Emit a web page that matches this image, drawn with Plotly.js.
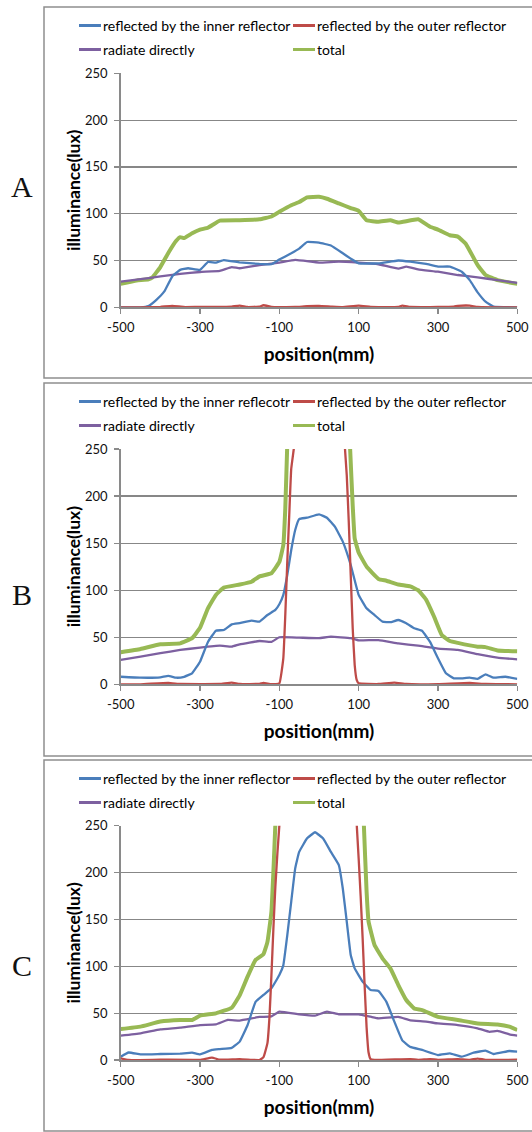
<!DOCTYPE html>
<html>
<head>
<meta charset="utf-8">
<script src="https://cdn.plot.ly/plotly-3.0.1.min.js"></script>
<style>html,body{margin:0;padding:0;background:#fff;}#chart{width:532px;height:1132px;}</style>
</head>
<body>
<div id="chart"></div>
<script>
// ---------- labels ----------
const panelLetters = ["A", "B", "C"];
const seriesNamesA = ["reflected by the inner reflector", "reflected by the outer reflector", "radiate directly", "total"];
const seriesNamesB = ["reflected by the inner reflecotr", "reflected by the outer reflector", "radiate directly", "total"];
const seriesNamesC = ["reflected by the inner reflector", "reflected by the outer reflector", "radiate directly", "total"];
const xTickVals = [-500, -300, -100, 100, 300, 500];
const xTickText = ["-500", "-300", "-100", "100", "300", "500"];
const yTickVals = [0, 50, 100, 150, 200, 250];
const xTitle = "position(mm)";
const yTitle = "illuminance(lux)";

// ---------- panel A ----------
const aInnerX = [-500,-450,-430,-410,-390,-370,-350,-330,-300,-280,-260,-240,-200,-150,-120,-100,-70,-50,-30,0,30,60,80,100,150,200,230,270,300,330,360,380,400,420,440,500];
const aInnerY = [0,0,1.4,8,17,33,40,41.7,40,48.4,47.7,50.5,48,46.3,46,51,57.7,62.7,69.8,69,66,57.7,52,47,47,50,48.8,46.3,43.5,43.5,38,29,16,6,0.7,0];
const aOuterX = [-500,-450,-400,-370,-340,-300,-250,-220,-200,-180,-150,-140,-120,-100,-60,-30,0,30,60,100,130,150,200,210,230,260,300,340,350,380,400,450,500];
const aOuterY = [0,0,0.5,1.5,0.3,0.5,0.3,0.8,1.8,0.3,0.8,2.2,0.5,0.2,0.3,1.2,1.5,0.8,0.2,1.8,0.3,0.2,0.5,1.8,0.3,0.2,0.3,0.8,1.5,1.8,0.3,0,0];
const aDirectX = [-500,-450,-400,-350,-300,-250,-220,-200,-150,-100,-60,0,50,100,150,200,220,250,300,350,400,450,500];
const aDirectY = [27.4,30,33,35.6,37.7,39,43,41.7,45,47.7,50.6,47.7,48.8,47.7,46,41.3,43.4,40.6,38,34.5,32,29,26];
const aTotalX = [-500,-460,-430,-420,-400,-380,-360,-350,-340,-320,-300,-280,-250,-200,-150,-120,-100,-70,-50,-30,0,20,50,80,100,120,150,180,200,250,280,300,330,350,370,400,420,450,500];
const aTotalY = [25,28.5,30,32,43,58,71,75,74,79,83,85,92.6,93,94,97,102,109,112.5,117.5,118,116,111,106,103,93,91.5,93,90.5,94,86,83,77,75.5,68,45,34.5,29,25];

// ---------- panel B ----------
const bInnerX = [-500,-450,-400,-380,-360,-340,-320,-300,-280,-260,-240,-220,-200,-170,-150,-130,-110,-100,-90,-80,-70,-60,-50,-30,0,20,40,60,80,100,120,140,160,180,200,220,240,260,280,300,320,340,360,380,400,420,440,470,500];
const bInnerY = [8,7,7.4,9,7,8,11.7,24,45,57,57.7,63.7,65,67.6,66.6,73.6,79,85,95,116,142.7,164,175.6,177,180.6,177,167.5,151.6,126.8,95,80.7,73.6,66.6,66,68.3,64.8,59.5,56.7,45,27.6,11.7,6.4,6.4,7,5.7,10.6,7,8,5.7];
const bOuterX = [-500,-450,-380,-350,-300,-250,-220,-200,-150,-140,-120,-100,-90,-85,-80,-75,-70,-60,-40,0,40,60,70,75,80,85,90,95,100,150,190,220,300,380,420,500];
const bOuterY = [0,0,1.5,0.3,0.2,0.3,1.8,0.3,0.5,1.5,0.2,1,27.6,73.6,130,180,229,262,400,500,400,284,222,173,116,59.5,20.5,4.6,1,0.3,1.8,0.3,0.2,1.5,0.3,0];
const bDirectX = [-500,-450,-400,-350,-300,-250,-220,-200,-150,-120,-100,-50,0,30,80,100,150,200,250,300,350,400,450,500];
const bDirectY = [26,29.4,33,36.5,39,41,40,42.5,46,45,50,49.6,49,50.6,49,46.7,47,43.5,41,38,36.5,32,28.3,26.5];
const bTotalX = [-500,-450,-400,-350,-320,-300,-280,-260,-240,-200,-170,-150,-120,-100,-90,-85,-80,-70,-40,0,40,70,78,85,90,100,120,150,170,200,230,250,270,290,310,330,350,400,420,450,500];
const bTotalY = [34,37.5,42.5,43.5,49,60,80.7,95,102.7,106,109,114.7,118,130,148,187,255,400,600,700,600,400,255,190,155,140,125,112,110,106,104,100,90,72,52,46,44,40,39.5,36,35];

// ---------- panel C ----------
const cInnerX = [-500,-480,-450,-400,-350,-320,-300,-270,-250,-220,-200,-180,-160,-140,-120,-100,-90,-80,-70,-60,-50,-30,-10,10,30,50,60,70,80,90,110,130,150,170,190,210,230,260,300,330,360,390,420,440,480,500];
const cInnerY = [3.5,8,6,6.4,6.8,7.8,6,10.7,11.7,13,19.6,37.3,62,69.4,76.5,90.7,101,133,169,204.5,222,236.5,243,236.5,222,208,183,147.6,112,97.8,83.6,74.7,73.6,62,41,21,14,10.7,5.3,7,3.5,7.8,10,6.4,9.6,8.9];
const cOuterX = [-500,-480,-400,-300,-270,-250,-200,-170,-150,-140,-130,-125,-120,-115,-110,-105,-100,-90,-40,0,40,90,95,100,105,110,115,120,125,130,140,230,250,280,300,350,380,400,420,500];
const cOuterY = [1.8,0,0.3,0.2,2.5,0.3,1,0.2,0,3,18,45,90,140,185,220,250,320,500,550,500,300,252,215,175,130,80,35,8,1,0,1,0.2,1,0.2,1,0.2,1.5,0.2,0.3];
const cDirectX = [-500,-450,-400,-350,-300,-260,-230,-200,-150,-120,-100,-50,-10,20,50,100,130,150,200,230,270,300,350,400,430,450,480,500];
const cDirectY = [26,28.4,32.7,34.5,37.3,38,42.7,42,45.9,46.6,51.6,48.7,47.3,51.6,48.7,48.7,46.2,44.5,45.9,42.3,41,39,37.3,33.8,30,31,27.4,26];
const cTotalX = [-500,-450,-400,-350,-320,-300,-260,-220,-200,-180,-160,-140,-130,-120,-115,-110,-100,0,100,113,120,125,140,160,180,200,220,240,260,300,350,400,450,480,500];
const cTotalY = [33,35.6,41,42.7,42.7,47.3,49.8,55.8,69,89,106.7,113,126,158,201,252,400,600,400,252,179.6,147.6,122.7,108.5,97.8,80,64,55,53.3,46,42.7,39,38,35.6,32];

// ---------- styling ----------
const W = 532, H = 1132;
const colors = {inner: "#4A7EBB", outer: "#BE4B48", direct: "#7D60A0", total: "#98B954"};
const font = "Lato, 'Open Sans', sans-serif";
const px = v => v / W;
const py = v => 1 - v / H;

// panel geometry in pixels
const panels = [
  {boxTop: 7, boxBottom: 378, plotTop: 73.3, plotBottom: 307.3, letterY: 186, names: seriesNamesA,
   data: [[aInnerX, aInnerY], [aOuterX, aOuterY], [aDirectX, aDirectY], [aTotalX, aTotalY]]},
  {boxTop: 383, boxBottom: 756, plotTop: 449, plotBottom: 684.3, letterY: 594, names: seriesNamesB,
   data: [[bInnerX, bInnerY], [bOuterX, bOuterY], [bDirectX, bDirectY], [bTotalX, bTotalY]]},
  {boxTop: 760, boxBottom: 1131, plotTop: 825.7, plotBottom: 1060, letterY: 965, names: seriesNamesC,
   data: [[cInnerX, cInnerY], [cOuterX, cOuterY], [cDirectX, cDirectY], [cTotalX, cTotalY]]}
];
const plotLeft = 120.7, plotRight = 517.3;
const seriesKeys = ["inner", "outer", "direct", "total"];
const widths = {inner: 2.3, outer: 2.3, direct: 2.3, total: 4};

const traces = [];
const shapes = [];
const annotations = [];
const layout = {
  width: W, height: H,
  margin: {l: 0, r: 0, t: 0, b: 0},
  paper_bgcolor: "#fff", plot_bgcolor: "#fff",
  showlegend: false,
  font: {family: font, color: "#111"}
};

panels.forEach((p, i) => {
  const n = i === 0 ? "" : String(i + 1);
  const xa = "x" + n, ya = "y" + n;
  const order = [3, 2, 0, 1];
  order.forEach(k => {
    const key = seriesKeys[k];
    traces.push({
      type: "scatter", mode: "lines",
      x: p.data[k][0], y: p.data[k][1],
      name: p.names[k],
      xaxis: xa, yaxis: ya,
      line: {color: colors[key], width: widths[key], shape: "spline", smoothing: 0.3},
      hoverinfo: "x+y+name"
    });
  });
  layout["xaxis" + n] = {
    domain: [px(plotLeft), px(plotRight)],
    anchor: ya,
    range: [-500, 500],
    tickmode: "array", tickvals: xTickVals, ticktext: xTickText,
    ticks: "outside", ticklen: 5, tickcolor: "#8a8a8a", tickwidth: 1.2,
    showline: true, linecolor: "#8a8a8a", linewidth: 1.5,
    showgrid: false, zeroline: false,
    tickfont: {family: font, size: 13, color: "#111"},
    ticklabelstandoff: 3,
    title: {text: "<b>" + xTitle + "</b>", font: {family: font, size: 19, color: "#000"}, standoff: 13},
    fixedrange: true
  };
  layout["yaxis" + n] = {
    domain: [py(p.plotBottom), py(p.plotTop)],
    anchor: xa,
    range: [0, 250],
    tickmode: "array", tickvals: yTickVals,
    ticks: "outside", ticklen: 5, tickcolor: "#8a8a8a", tickwidth: 1.2,
    showline: true, linecolor: "#8a8a8a", linewidth: 1.5,
    showgrid: true, gridcolor: "#878787", gridwidth: 1.2,
    zeroline: false,
    tickfont: {family: font, size: 13, color: "#111"},
    ticklabelstandoff: 4,
    title: {text: "<b>" + yTitle + "</b>", font: {family: font, size: 17.5, color: "#000"}, standoff: 0},
    fixedrange: true
  };
  // panel border box
  shapes.push({type: "rect", xref: "paper", yref: "paper",
    x0: px(44), x1: px(540), y0: py(p.boxBottom), y1: py(p.boxTop),
    line: {color: "#8e8e8e", width: 1.5}, fillcolor: "rgba(0,0,0,0)", layer: "below"});
  // letter
  annotations.push({xref: "paper", yref: "paper", x: px(22), y: py(p.letterY),
    text: panelLetters[i], showarrow: false, xanchor: "center", yanchor: "middle",
    font: {family: "'Liberation Serif', 'DejaVu Serif', serif", size: 30, color: "#111"}});
  // legend (two columns, two rows)
  const legCols = [79, 293];
  const legRows = [p.boxTop + 18.5, p.boxTop + 42.5];
  [0, 1, 2, 3].forEach((k, j) => {
    const cx = legCols[j % 2], cy = legRows[Math.floor(j / 2)];
    const key = seriesKeys[k];
    shapes.push({type: "line", xref: "paper", yref: "paper",
      x0: px(cx), x1: px(cx + 22), y0: py(cy), y1: py(cy),
      line: {color: colors[key], width: 3}});
    annotations.push({xref: "paper", yref: "paper", x: px(cx + 22), y: py(cy),
      text: p.names[k], showarrow: false, xanchor: "left", yanchor: "middle",
      font: {family: font, size: 14, color: "#000"}});
  });
});
layout.shapes = shapes;
layout.annotations = annotations;

Plotly.newPlot("chart", traces, layout, {displayModeBar: false, staticPlot: true});
</script>
</body>
</html>
